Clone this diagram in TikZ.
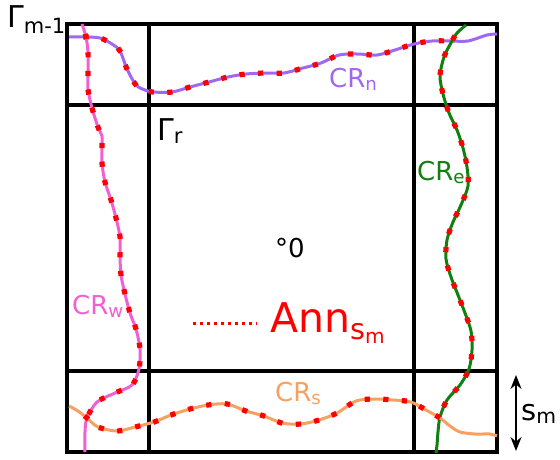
\documentclass[tikz,border=0pt]{standalone}
\usepackage{fontspec}
\setmainfont{DejaVu Sans}
\usetikzlibrary{arrows.meta,decorations.markings}
\definecolor{crnclr}{RGB}{160,104,240}
\definecolor{crwclr}{RGB}{240,96,210}
\definecolor{creclr}{RGB}{16,128,16}
\definecolor{crsclr}{RGB}{248,160,96}
\begin{document}
\begin{tikzpicture}[x=1pt, y=-1pt, >={Stealth[length=14pt,width=11pt]},
    gridline/.style={line width=3.4pt},
    crline/.style={line width=3pt, line join=round},
    crdots/.style 2 args={postaction={decorate, decoration={markings,
        mark=between positions #1 and #2 step 18.6pt with {\fill[red] (-2.6pt,-2.6pt) rectangle (2.6pt,2.6pt);}}}},
    lbl/.style={font=\fontsize{26}{29}\selectfont, inner sep=0pt, anchor=base west}]
    \useasboundingbox (0,0) rectangle (560,459);

    \draw[gridline] (67,24) rectangle (497,452);
    \draw[gridline] (149,24) -- (149,452);
    \draw[gridline] (414,24) -- (414,452);
    \draw[gridline] (67,105) -- (497,105);
    \draw[gridline] (67,371) -- (497,371);

    \draw[crline, crnclr, crdots={17pt}{-40pt}] plot[smooth, tension=0.5] coordinates {(69,37) (86,37) (100,38) (112,44) (120,51) (127,69) (136,85) (145,90) (153,92) (172,92) (190,87) (209,82) (228,77) (246,74) (265,73) (284,73) (303,68) (321,63) (339,55) (358,54) (377,55) (395,50) (414,44) (432,41) (451,41) (468,41) (487,35) (497,34)};
    \draw[crline, crwclr, crdots={13pt}{-32pt}] plot[smooth, tension=0.5] coordinates {(82,24) (86,37) (88,52) (88,71) (88,89) (92,108) (98,127) (102,136) (102,144) (102,163) (105,182) (111,200) (116,218) (120,237) (120,256) (121,275) (125,294) (130,313) (136,329) (140,349) (139,369) (132,385) (115,393) (97,402) (87,418) (85,432) (85,452)};
    \draw[crline, creclr, crdots={18pt}{-35pt}] plot[smooth, tension=0.5] coordinates {(466,25) (457,33) (452,41) (444,57) (440,76) (443,94) (449,113) (457,130) (463,148) (467,167) (468,186) (461,205) (453,222) (447,240) (446,259) (451,277) (458,295) (465,313) (471,331) (472,350) (469,369) (460,385) (447,400) (440,417) (438,432) (437,445) (436,453)};
    \draw[crline, crsclr, crdots={21pt}{-62pt}] plot[smooth, tension=0.5] coordinates {(69,406) (78,411) (87,418) (98,427) (117,431) (135,427) (154,422) (171,415) (190,409) (208,405) (227,404) (246,411) (264,416) (282,423) (301,424) (319,420) (337,413) (356,401) (375,399) (393,400) (411,402) (426,410) (440,418) (450,426) (460,432) (475,434) (490,434) (497,436)};

    \node[lbl, font=\fontsize{30}{33}\selectfont] (gm) at (7,27) {Γ\textsubscript{m-1}};
    \node[lbl, font=\fontsize{30}{33}\selectfont] (gr) at (157,140) {Γ\textsubscript{r}};
    \node[lbl, text=crnclr] (crn) at (329,87) {CR\textsubscript{n}};
    \node[lbl, text=creclr] (cre) at (417,180) {CR\textsubscript{e}};
    \node[lbl, text=crwclr] (crw) at (72,314) {CR\textsubscript{w}};
    \node[lbl, text=crsclr] (crs) at (275,401) {CR\textsubscript{s}};
    \node[lbl] (orig) at (275,257) {°0};
    \node[lbl, text=red, font=\fontsize{41}{45}\selectfont] (ann) at (270,332) {Ann\textsubscript{s\textsubscript{m}}};
    \draw[red, line width=3pt, dash pattern=on 3pt off 4pt] (193,323) -- (257,323);

    \coordinate (smtop) at (516,375);
    \coordinate (smbot) at (516,451);
    \draw[<->, line width=1.8pt] (smtop) -- (smbot);
    \node[lbl, font=\fontsize{29}{32}\selectfont] (sm) at (521,420) {s\textsubscript{m}};
\end{tikzpicture}
\end{document}
